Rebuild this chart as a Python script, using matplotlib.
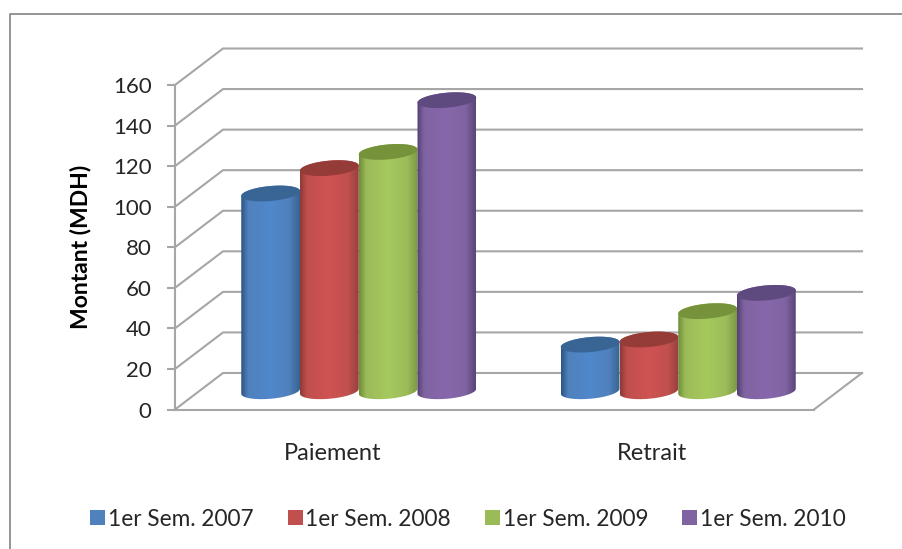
import numpy as np
import matplotlib
matplotlib.use("Agg")
import matplotlib.pyplot as plt
from matplotlib.patches import Polygon, Patch
from matplotlib.lines import Line2D
from matplotlib.colors import to_rgb

categories = ["Paiement", "Retrait"]
series_names = ["1er Sem. 2007", "1er Sem. 2008", "1er Sem. 2009", "1er Sem. 2010"]
values_2007 = [97.5, 23]
values_2008 = [110, 25.5]
values_2009 = [118, 39.5]
values_2010 = [143.5, 48.5]
all_values = [values_2007, values_2008, values_2009, values_2010]
y_ticks = [0, 20, 40, 60, 80, 100, 120, 140, 160]

base_cols = ["#4f81bd", "#c0504d", "#9bbb59", "#8064a2"]
centre_cols = ["#5088cc", "#cf5353", "#a6c95e", "#8767ab"]
edge_l = ["#2c5482", "#8e3a38", "#6f8c38", "#534073"]
edge_r = ["#38638f", "#96403d", "#7c9a44", "#5a4579"]
top_cols = ["#396594", "#953c39", "#76933c", "#5f4a80"]
GRID = "#a6a6a6"
TEXT = "#262626"

plt.rcParams["font.family"] = ["Lato", "DejaVu Sans"]
W, H = 903, 549
fig = plt.figure(figsize=(W / 100, H / 100), dpi=100)
fig.patch.set_facecolor("white")
L, R, T, B = 175, 814, 85, 409.5
ax = fig.add_axes([L / W, 1 - B / H, (R - L) / W, (B - T) / H])
ax.set_facecolor("none")
XMAX, YMAX = 2.0, 160.0
PX = XMAX / (R - L)
PY = YMAX / (B - T)
DX, DY = 48 * PX, 36.5 * PY   # depth vector in data units


def depth(x, y, d):
    return x + d * DX, y + d * DY


lw = 1.5
# walls
for v in y_ticks:
    x0, y0 = depth(0, v, 0)
    x1, y1 = depth(0, v, 1)
    x2, y2 = depth(XMAX, v, 1)
    ax.plot([x0, x1, x2], [y0, y1, y2], color=GRID, lw=lw, clip_on=False, zorder=1,
            solid_joinstyle="miter")
xa, ya = depth(XMAX, 0, 0)
xb, yb = depth(XMAX, 0, 1)
ax.plot([xa, xb], [ya, yb], color=GRID, lw=lw, clip_on=False, zorder=1)

# cylinders
bar_w = 58.75 * PX
a = bar_w / 2
s, b = 2.5 * PY, 7.5 * PY
t = np.linspace(0, 2 * np.pi, 121)
grad_x = np.array([0, 0.12, 0.5, 0.82, 1.0])
n_series = len(all_values)
for ci in range(len(categories)):
    c0, _ = depth(ci + 0.5, 0, 0.5)
    for si, vals in enumerate(all_values):
        cx = c0 + (si - (n_series - 1) / 2) * bar_w
        _, base = depth(0, 0, 0.5)
        top = base + vals[ci]
        tb = np.linspace(np.pi, 2 * np.pi, 60)
        bx = cx + a * np.cos(tb)
        by = base + s * np.cos(tb) + b * np.sin(tb)
        tt = np.linspace(0, np.pi, 60)
        ux = cx + a * np.cos(tt)
        uy = top + s * np.cos(tt) + b * np.sin(tt)
        body = Polygon(np.column_stack([np.r_[bx, ux], np.r_[by, uy]]),
                       closed=True, transform=ax.transData, fc="none", ec="none")
        ax.add_patch(body)
        c_l, c_m, c_r, c_b = map(np.array, map(to_rgb, (edge_l[si], centre_cols[si], edge_r[si], base_cols[si])))
        stops = np.array([c_l, c_b, c_m, c_b, c_r])
        xs = np.linspace(0, 1, 128)
        row = np.column_stack([np.interp(xs, grad_x, stops[:, k]) for k in range(3)])[None, :, :]
        im = ax.imshow(row, extent=[cx - a, cx + a, base - 10 * PY, top + 10 * PY],
                       aspect="auto", origin="lower", zorder=3 + si * 0.1, interpolation="bilinear")
        im.set_clip_path(body)
        ax.fill(cx + a * np.cos(t), top + s * np.cos(t) + b * np.sin(t),
                color=top_cols[si], lw=0, zorder=3.05 + si * 0.1)

ax.set_xlim(0, XMAX)
ax.set_ylim(0, YMAX)
ax.set_yticks(y_ticks)
ax.set_xticks([i + 0.5 - 2 * PX for i in range(len(categories))])
ax.set_xticklabels(categories, fontsize=17, color=TEXT)
ax.tick_params(axis="x", length=0, pad=24)
ax.tick_params(axis="y", length=5.8, width=lw, color=GRID, labelsize=16, labelcolor=TEXT, pad=11)
for side in ("top", "right"):
    ax.spines[side].set_visible(False)
for side in ("left", "bottom"):
    ax.spines[side].set_color(GRID)
    ax.spines[side].set_linewidth(lw)
ax.set_ylabel("Montant (MDH)", fontsize=16.5, fontweight="bold", color="black")
ax.yaxis.set_label_coords((91 - L) / (R - L), 0.5 - (246.5 - (T + B) / 2) / (B - T))

handles = [Patch(fc=base_cols[i], ec="none") for i in range(n_series)]
fig.legend(handles, series_names, ncol=4, loc="center", frameon=False,
           bbox_to_anchor=(468 / W, 1 - 519 / H), fontsize=16.3, labelcolor=TEXT,
           handlelength=0.66, handleheight=0.66, handletextpad=0.12, columnspacing=1.5,
           borderpad=0, borderaxespad=0)

# outer frame: only top and left edges are visible in the crop
fig.add_artist(Line2D([10 / W, 10 / W, 1], [0, 1 - 14 / H, 1 - 14 / H],
                      transform=fig.transFigure, color="#8c8c8c", lw=1.3))
fig.savefig("out.png", dpi=100, facecolor="white")
